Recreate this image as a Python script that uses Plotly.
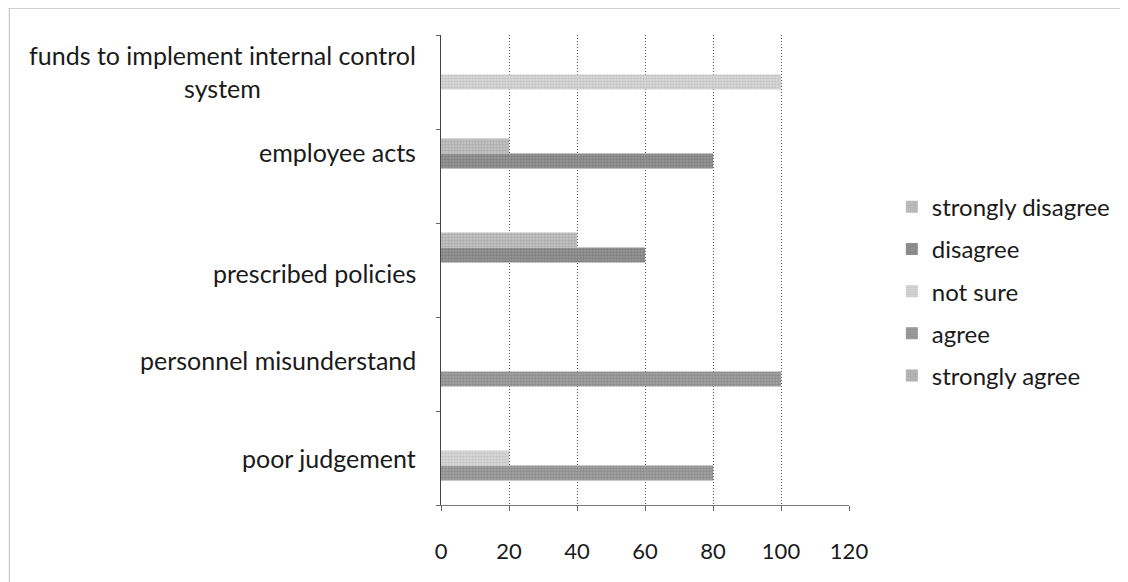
import plotly.graph_objects as go

categories = ["poor judgement", "personnel misunderstand", "prescribed policies",
              "employee acts", "funds to implement internal control system"]
category_labels = ["poor judgement", "personnel misunderstand", "prescribed policies",
                   "employee acts", "funds to implement internal control<br>system"]
series_names = ["strongly agree", "agree", "not sure", "disagree", "strongly disagree"]
strongly_agree = [0, 0, 0, 0, 0]
agree = [80, 100, 0, 0, 0]
not_sure = [20, 0, 0, 0, 100]
disagree = [0, 0, 60, 80, 0]
strongly_disagree = [0, 0, 40, 20, 0]
x_ticks = [0, 20, 40, 60, 80, 100, 120]

series_values = [strongly_agree, agree, not_sure, disagree, strongly_disagree]
fg_colors = ["#888888", "#6e6e6e", "#acacac", "#666666", "#8e8e8e"]
bg_colors = ["#c0c0c0", "#a6a6a6", "#dcdcdc", "#999999", "#c8c8c8"]
legend_ranks = [5, 4, 3, 2, 1]
label_shift = [0, 4, -3, 24, 11]

FONT = "Lato"
fig = go.Figure()
for name, vals, fg, bg, rk in zip(series_names, series_values, fg_colors, bg_colors, legend_ranks):
    fig.add_trace(go.Bar(
        y=categories, x=vals, name=name, orientation="h",
        legendgroup=name, legendrank=rk,
        marker=dict(color=bg, line=dict(width=0),
                    pattern=dict(shape=".", fgcolor=fg, bgcolor=bg, size=3, solidity=0.5)),
    ))

for cat, lab, sh in zip(categories, category_labels, label_shift):
    fig.add_annotation(x=-0.056, xref="paper", y=cat, yref="y", text=lab,
                       showarrow=False, xanchor="right", yanchor="middle", align="center",
                       yshift=sh, font=dict(family=FONT, size=25, color="#1a1a1a"))

fig.add_shape(type="line", xref="paper", yref="paper", x0=-1.06, x1=1.68,
              y0=1.0564, y1=1.0564, line=dict(color="#d0d0d0", width=1))
fig.add_shape(type="line", xref="paper", yref="paper", x0=-1.058, x1=-1.058,
              y0=1.0564, y1=-0.2, line=dict(color="#bcbcbc", width=1))

fig.update_layout(
    width=1128, height=582,
    margin=dict(l=433, r=287, t=27, b=85),
    paper_bgcolor="white", plot_bgcolor="white",
    barmode="group", bargap=0.2, bargroupgap=0,
    font=dict(family=FONT, size=22, color="#1a1a1a"),
    legend=dict(traceorder="grouped", tracegroupgap=8,
                x=1.105, y=0.455, xanchor="left", yanchor="middle",
                font=dict(family=FONT, size=24, color="#1a1a1a"),
                itemwidth=30),
    showlegend=True,
)
fig.update_xaxes(range=[0, 120], tickvals=x_ticks, ticktext=[str(v) for v in x_ticks],
                 showgrid=True, gridcolor="#555555", griddash="1px,2px", gridwidth=1,
                 zeroline=False, showline=True, linecolor="#777777",
                 ticks="outside", ticklen=5, tickcolor="#666666",
                 ticklabelstandoff=22, tickfont=dict(family=FONT, size=22, color="#1a1a1a"))
fig.update_yaxes(categoryorder="array", categoryarray=categories,
                 showticklabels=False, showgrid=False, zeroline=False,
                 showline=True, linecolor="#444444",
                 ticks="outside", ticklen=4, tickcolor="#666666", tickson="boundaries")

fig.write_html("out.html")
